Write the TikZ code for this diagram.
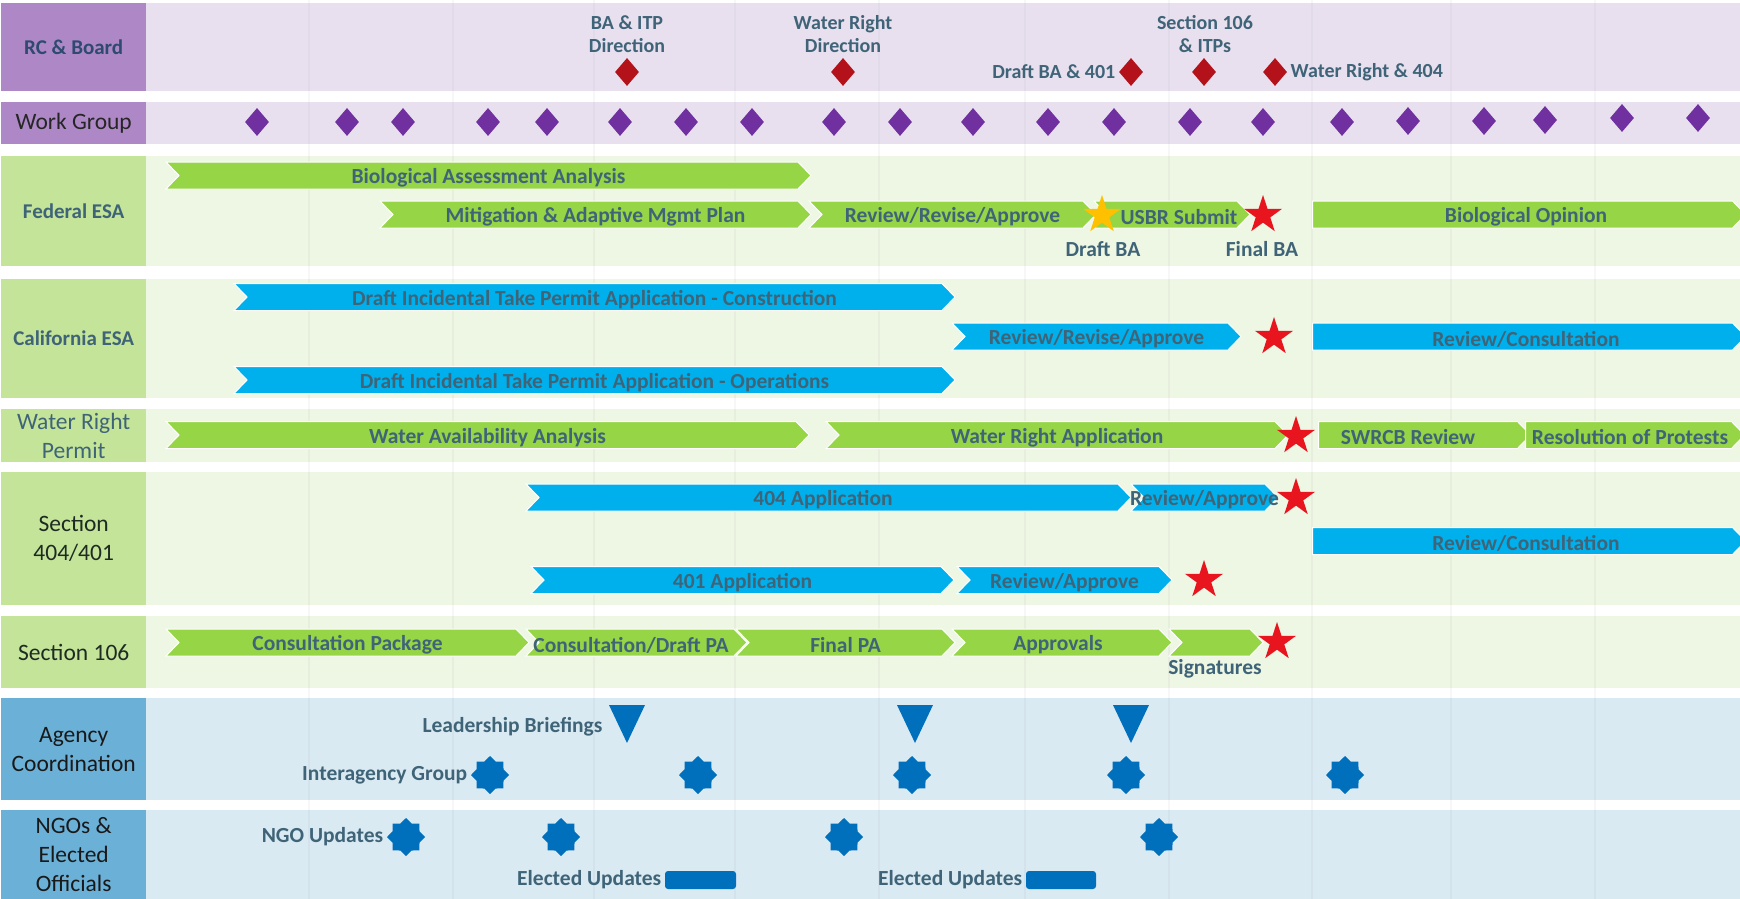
\documentclass[tikz,border=0pt]{standalone}
\usepackage{fontspec}
\setmainfont{Carlito}
\usetikzlibrary{shapes.geometric, shapes.symbols, positioning}

\definecolor{lavbox}{HTML}{AE88C6}
\definecolor{lavrow}{HTML}{E8E0EF}
\definecolor{wgdia}{HTML}{7030A0}
\definecolor{rcdia}{HTML}{B4121B}
\definecolor{grnbox}{HTML}{C3E499}
\definecolor{grnrow}{HTML}{EEF6E4}
\definecolor{grnbar}{HTML}{95D546}
\definecolor{blubar}{HTML}{00B0EC}
\definecolor{blubox}{HTML}{6AB0D7}
\definecolor{blurow}{HTML}{DAEAF3}
\definecolor{dkblue}{HTML}{0070BD}
\definecolor{redstar}{HTML}{E8141E}
\definecolor{goldstar}{HTML}{FFC000}
\definecolor{txtc}{HTML}{3F6478}
\definecolor{navy}{HTML}{2E4A6E}
\definecolor{labdark}{HTML}{1E2A22}

\begin{document}
\begin{tikzpicture}[x=1pt, y=-1pt,% styles used in image code
 rowlab/.style = {anchor=north west, minimum width=145, inner sep=0pt,
                  align=center, font=\fontsize{23.5}{29}\selectfont},
boldlab/.style = {font=\bfseries\fontsize{21}{25}\selectfont, text=txtc},
    bar/.style = {signal, signal to=east, signal from=west,
                  signal pointer angle=92, minimum height=27,
                  inner sep=0pt, draw=white, line width=1pt},
   gbar/.style = {bar, fill=grnbar},
   bbar/.style = {bar, fill=blubar},
   flat/.style = {signal from=nowhere},
 bartxt/.style = {font=\bfseries\fontsize{21.5}{24}\selectfont, text=txtc,
                  yshift=-2.5pt},
  mstxt/.style = {font=\bfseries\fontsize{20}{23}\selectfont, text=txtc,
                  align=center},
  evtxt/.style = {font=\bfseries\fontsize{21.5}{24}\selectfont, text=txtc},
  wgdot/.style = {diamond, fill=wgdia, minimum width=24, minimum height=28,
                  inner sep=0pt},
  rcdot/.style = {wgdot, fill=rcdia},
  mstar/.style = {star, star points=5, star point ratio=2.618,
                  minimum size=40, inner sep=0pt, fill=redstar},
   meet/.style = {star, star points=8, star point ratio=1.3,
                  minimum size=38, inner sep=0pt, fill=dkblue}
                    ]
	\useasboundingbox (0,0) rectangle (1740,899);
	\fill[white] (0,0) rectangle (1740,899);

	% row backgrounds
	\fill[lavrow] (146,3)   rectangle (1740,91);
	\fill[lavrow] (146,102) rectangle (1740,144);
	\fill[grnrow] (146,156) rectangle (1740,266);
	\fill[grnrow] (146,279) rectangle (1740,398);
	\fill[grnrow] (146,409) rectangle (1740,462);
	\fill[grnrow] (146,472) rectangle (1740,605);
	\fill[grnrow] (146,616) rectangle (1740,688);
	\fill[blurow] (146,698) rectangle (1740,800);
	\fill[blurow] (146,810) rectangle (1740,899);

	% grid
	\foreach \gx in {309,453,594,735,879,1025,1169,1312,1451,1595}
		\draw[black!40, line width=1.5pt, opacity=0.08] (\gx,0) -- (\gx,899);

	% row labels
	\node[rowlab, fill=lavbox, minimum height=88,
	      font=\bfseries\fontsize{21}{25}\selectfont, text=navy] (rc) at (1,3) {RC \& Board};
	\node[rowlab, fill=lavbox, minimum height=42, text=black!85] (wg) at (1,102) {Work Group};
	\node[rowlab, fill=grnbox, minimum height=110, boldlab] (fesa) at (1,156) {Federal ESA};
	\node[rowlab, fill=grnbox, minimum height=119, boldlab] (cesa) at (1,279) {California ESA};
	\node[rowlab, fill=grnbox, minimum height=53, text=txtc] (wrp) at (1,409) {Water Right\\Permit};
	\node[rowlab, fill=grnbox, minimum height=133, text=labdark] (s404) at (1,472) {Section\\404/401};
	\node[rowlab, fill=grnbox, minimum height=72, text=labdark] (s106) at (1,616) {Section 106};
	\node[rowlab, fill=blubox, minimum height=102, text=black!90] (agc) at (1,698) {Agency\\Coordination};
	\node[rowlab, fill=blubox, minimum height=89, text=black!90] (ngo) at (1,810) {NGOs \&\\Elected\\Officials};

	% RC & Board
	\node[rcdot] (rc1) at (627,72)  {};
	\node[rcdot] (rc2) at (843,72)  {};
	\node[rcdot] (rc3) at (1131,72) {};
	\node[rcdot] (rc4) at (1204,72) {};
	\node[rcdot] (rc5) at (1275,72) {};
	\node[mstxt] at (627,34.5)  {BA \& ITP\\Direction};
	\node[mstxt] at (843,34.5)  {Water Right\\Direction};
	\node[mstxt] at (1205,34.5) {Section 106\\\& ITPs};
	\node[mstxt, left=0pt of rc3]  {Draft BA \& 401};
	\node[mstxt, right=0pt of rc5] {Water Right \& 404};

	% Work Group
	\foreach \dx/\dy [count=\i] in {257/122,347/122,403/122,488/122,547/122,
	         620/122,686/122,752/122,834/122,900/122,973/122,1048/122,1114/122,
	         1190/122,1263/122,1342/122,1408/121,1484/121,1545/120,1622/118,1698/118}
		\node[wgdot] (wg\i) at (\dx,\dy) {};

	% Federal ESA
	\node[gbar, minimum width=645] (baa) at (488.5,175.5) {};
	\node[bartxt] at (baa) {Biological Assessment Analysis};
	\node[gbar, minimum width=431] (mamp) at (595.5,214.5) {};
	\node[bartxt] at (mamp) {Mitigation \& Adaptive Mgmt Plan};
	\node[gbar, minimum width=287] (rrfed) at (952.5,214.5) {};
	\node[bartxt] at (rrfed) {Review/Revise/Approve};
	\node[gbar, minimum width=156] (usbr) at (1172,214.5) {};
	\node[bartxt] at (1179,214.5) {USBR Submit};
	\node[gbar, flat, minimum width=433] (bo) at (1522.5,214.5) {};
	\node[bartxt] at (1526,214.5) {Biological Opinion};
	\node[mstar, fill=goldstar] (dba) at (1102,215) {};
	\node[mstar] (fba) at (1263,215) {};
	\node[evtxt] at (1103,249) {Draft BA};
	\node[evtxt] at (1262,249) {Final BA};

	% California ESA
	\node[bbar, minimum width=721] (itpc) at (594.5,297) {};
	\node[bartxt] at (itpc) {Draft Incidental Take Permit Application - Construction};
	\node[bbar, minimum width=289] (rrca) at (1096.5,336.5) {};
	\node[bartxt] at (rrca) {Review/Revise/Approve};
	\node[bbar, flat, minimum width=433] (rcca) at (1522.5,336.5) {};
	\node[bartxt] at (1526,336.5) {Review/Consultation};
	\node[bbar, minimum width=721] (itpo) at (594.5,380) {};
	\node[bartxt] at (itpo) {Draft Incidental Take Permit Application - Operations};
	\node[mstar] (itps) at (1274,337) {};

	% Water Right Permit
	\node[gbar, minimum width=643] (waa) at (487.5,435) {};
	\node[bartxt] at (waa) {Water Availability Analysis};
	\node[gbar, minimum width=462] (wra) at (1057,435) {};
	\node[bartxt] at (wra) {Water Right Application};
	\node[gbar, flat, minimum width=212] (swrcb) at (1418,435) {};
	\node[bartxt] at (1408,435) {SWRCB Review};
	\node[gbar, flat, minimum width=219] (rop) at (1628.5,435) {};
	\node[bartxt] at (1630,435) {Resolution of Protests};
	\node[mstar] (wrs) at (1296,436) {};

	% Section 404/401
	\node[bbar, minimum width=605] (app404) at (828.5,497.5) {};
	\node[bartxt] at (823,497.5) {404 Application};
	\node[bbar, minimum width=147] (ra404) at (1204.5,497.5) {};
	\node[bartxt] at (ra404) {Review/Approve};
	\node[bbar, flat, minimum width=433] (rc404) at (1522.5,541) {};
	\node[bartxt] at (1526,541) {Review/Consultation};
	\node[bbar, minimum width=423] (app401) at (742.5,580) {};
	\node[bartxt] at (app401) {401 Application};
	\node[bbar, minimum width=215] (ra401) at (1064.5,580) {};
	\node[bartxt] at (ra401) {Review/Approve};
	\node[mstar] (s404s) at (1296,498) {};
	\node[mstar] (s401s) at (1204,580) {};

	% Section 106
	\node[gbar, minimum width=363] (cpkg) at (347.5,642.5) {};
	\node[bartxt] at (cpkg) {Consultation Package};
	\node[gbar, minimum width=221] (cdpa) at (636.5,642.5) {};
	\node[bartxt] at (631,642.5) {Consultation/Draft PA};
	\node[gbar, minimum width=219] (fpa) at (845.5,642.5) {};
	\node[bartxt] at (fpa) {Final PA};
	\node[gbar, minimum width=220] (appr) at (1062,642.5) {};
	\node[bartxt] at (1058,642.5) {Approvals};
	\node[gbar, minimum width=94] (sig) at (1216,642.5) {};
	\node[mstar] (s106s) at (1277,642) {};
	\node[evtxt] at (1215,669) {Signatures};

	% Agency Coordination
	\coordinate (lb1) at (627,705);
	\coordinate (lb2) at (915,705);
	\coordinate (lb3) at (1131,705);
	\fill[dkblue] (lb1) ++(-18,0) -- ++(36,0) -- ++(-18,38) -- cycle;
	\fill[dkblue] (lb2) ++(-18,0) -- ++(36,0) -- ++(-18,38) -- cycle;
	\fill[dkblue] (lb3) ++(-18,0) -- ++(36,0) -- ++(-18,38) -- cycle;
	\node[evtxt, anchor=east] at (606,727) {Leadership Briefings};
	\node[meet] (ia1) at (490,775)  {};
	\node[meet] (ia2) at (698,775)  {};
	\node[meet] (ia3) at (912,775)  {};
	\node[meet] (ia4) at (1126,775) {};
	\node[meet] (ia5) at (1345,775) {};
	\node[evtxt, left=0pt of ia1] {Interagency Group};

	% NGOs & Elected Officials
	\node[meet] (ng1) at (406,837)  {};
	\node[meet] (ng2) at (561,837)  {};
	\node[meet] (ng3) at (844,837)  {};
	\node[meet] (ng4) at (1159,837) {};
	\node[evtxt, left=0pt of ng1] {NGO Updates};
	\node[fill=dkblue, rounded corners=3pt, minimum width=71, minimum height=18,
	      inner sep=0pt] (eu1) at (700.5,880) {};
	\node[fill=dkblue, rounded corners=3pt, minimum width=70, minimum height=18,
	      inner sep=0pt] (eu2) at (1061,880) {};
	\node[evtxt, left=0pt of eu1] {Elected Updates};
	\node[evtxt, left=0pt of eu2] {Elected Updates};
\end{tikzpicture}
\end{document}
